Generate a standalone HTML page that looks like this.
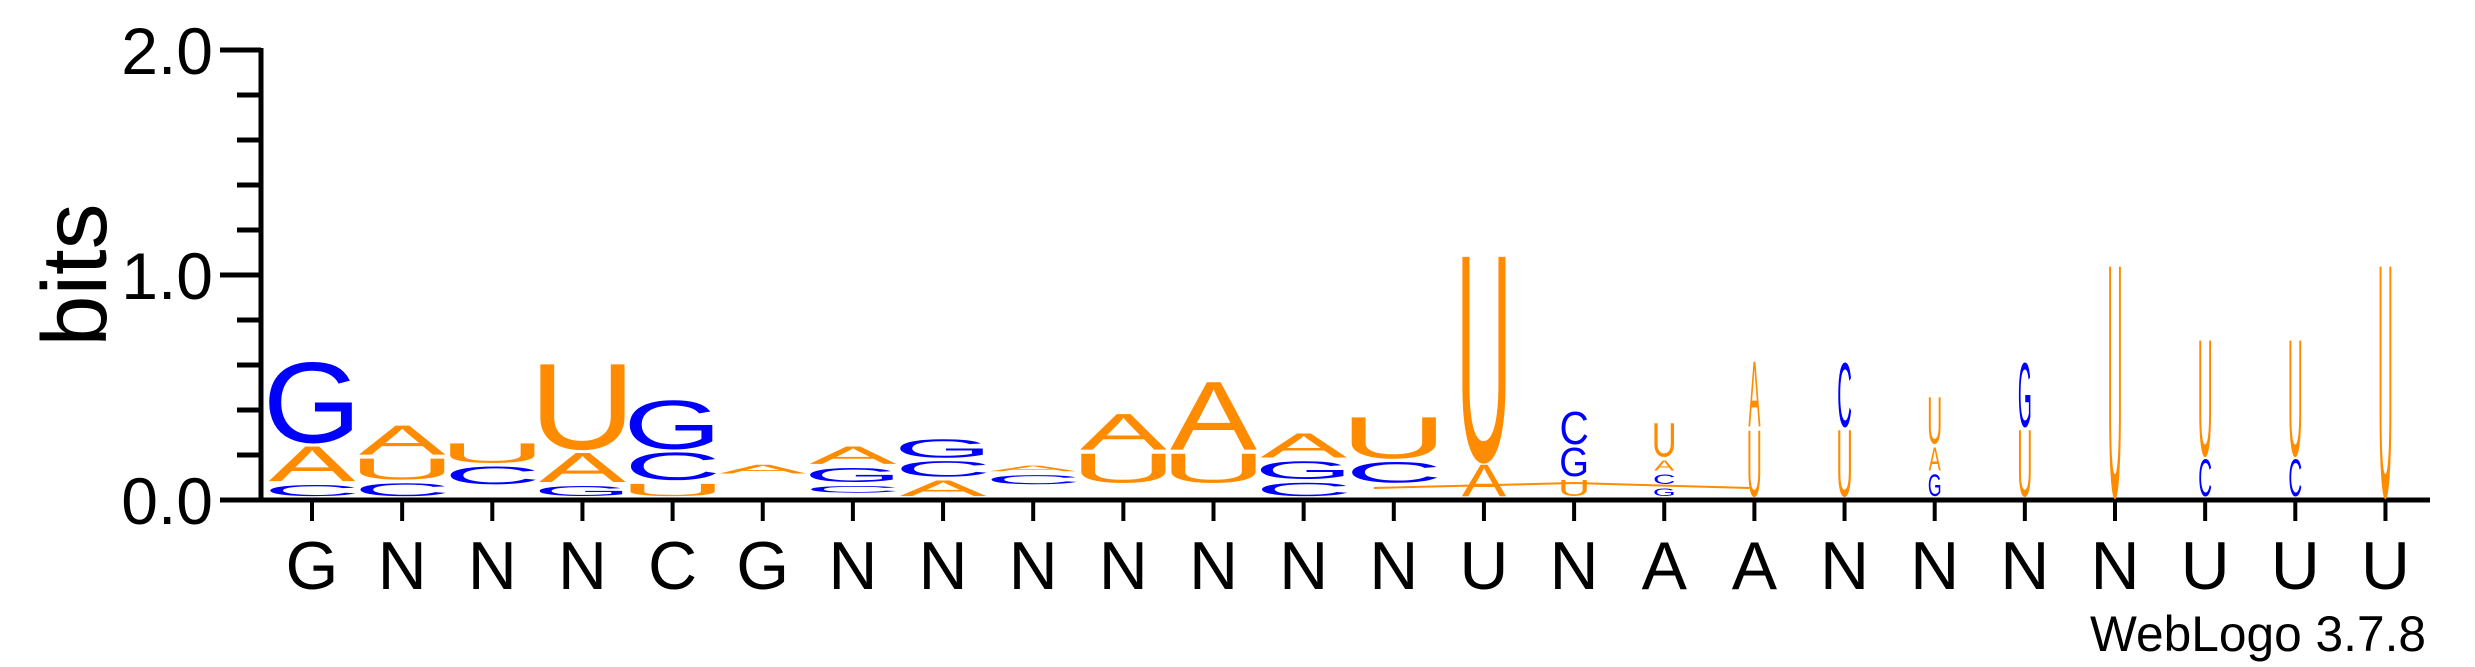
<!DOCTYPE html>
<html><head><meta charset="utf-8"><style>
html,body{margin:0;padding:0;background:#fff;}
svg{display:block;font-family:"Liberation Sans",Arial,sans-serif;}
</style></head><body>
<svg id="chart" width="2475" height="667" viewBox="0 0 2475 667" xmlns="http://www.w3.org/2000/svg">
<g id="axes"></g>
<g id="stacks"></g>
<text transform="translate(106,275) rotate(-90)" text-anchor="middle" font-size="92">bits</text>
<text x="2426" y="651" text-anchor="end" font-size="50" textLength="336" lengthAdjust="spacingAndGlyphs">WebLogo 3.7.8</text>
</svg>
<script>
// Data
const positions = ["G","N","N","N","C","G","N","N","N","N","N","N","N","U","N","A","A","N","N","N","N","U","U","U"];
// stacks bottom -> top
const stackLetters = [
 ["C","A","G"],["C","U","A"],["C","U"],["G","A","U"],["U","C","G"],["A"],
 ["C","G","A"],["A","C","G"],["C","A"],["U","A"],["U","A"],["C","G","A"],
 ["C","U"],["A","U"],["U","G","C"],["G","C","A","U"],["U","A"],["U","C"],
 ["G","A","U"],["U","G"],["U"],["C","U"],["C","U"],["U"]];
const stackBits = [
 [0.066,0.172,0.372],[0.074,0.11,0.147],[0.095,0.104],[0.062,0.147,0.395],[0.072,0.138,0.23],[0.057],
 [0.047,0.081,0.095],[0.087,0.085,0.098],[0.057,0.043],[0.146,0.176],[0.146,0.318],[0.076,0.095,0.125],
 [0.108,0.2],[0.157,0.926],[0.09,0.142,0.16],[0.053,0.06,0.062,0.166],[0.308,0.306],[0.31,0.30],
 [0.113,0.12,0.223],[0.31,0.30],[1.04],[0.18,0.53],[0.18,0.53],[1.04]];
// bits occupied by near-invisible letters below each stack
const hiddenBits = [0,0,0.053,0,0,0.1,0.015,0,0.053,0.06,0.06,0,0.06,0,0,0,0,0,0,0,0,0,0,0];
const yTicks = [0.0,1.0,2.0];
const yTickLabels = ["0.0","1.0","2.0"];
const minorTicks = [0.2,0.4,0.6,0.8,1.2,1.4,1.6,1.8];

// layout
const X0 = 312, PITCH = 90.15, Y0 = 500, PXPB = 225;
const colWidths = [86,86,86,86,86,86,86,86,86,86,86,86,86,44,26,20,12,13,12,12,12,12,12,12];
const inkW = {A:0.66,C:0.64,G:0.68,U:0.58};
const colors = {A:"#FF8C00",U:"#FF8C00",C:"#0000FF",G:"#0000FF"};
const xs = i => X0 + i*PITCH;
const ys = b => Y0 - b*PXPB;
const NS = "http://www.w3.org/2000/svg";
const axes = document.getElementById('axes');
const stacks = document.getElementById('stacks');
function mk(tag, attrs, parent){const e=document.createElementNS(NS,tag);for(const k in attrs)e.setAttribute(k,attrs[k]);parent.appendChild(e);return e;}

// y axis
let yl = mk('line',{x1:261,y1:ys(2.0)-2,x2:261,y2:Y0+2,stroke:'#000','stroke-width':5},axes);


yTicks.forEach((t,i)=>{
  const l = mk('line',{x1:220,y1:ys(t),x2:261,y2:ys(t),stroke:'#000','stroke-width':5},axes);
  
  
  const tx = mk('text',{x:213,y:ys(t)+24,'text-anchor':'end','font-size':66},axes);
  
  
  tx.textContent = yTickLabels[i];
});
minorTicks.forEach(t=>{
  const l = mk('line',{x1:237,y1:ys(t),x2:261,y2:ys(t),stroke:'#000','stroke-width':5},axes);
  
  
});
// x axis
let xl = mk('line',{x1:259,y1:Y0,x2:2430,y2:Y0,stroke:'#000','stroke-width':5},axes);


positions.forEach((p,i)=>{
  const l = mk('line',{x1:xs(i),y1:Y0,x2:xs(i),y2:521,stroke:'#000','stroke-width':4},axes);
  
  
  const tx = mk('text',{x:xs(i),y:589,'text-anchor':'middle','font-size':68},axes);
  
  
  tx.textContent = p;
});
// thin orange artifact line
let art = mk('polyline',{points:`${xs(12)-20},488 ${xs(14)},483 ${xs(16)-5},488`,fill:'none',stroke:'#FF8C00','stroke-width':2},stacks);



// letters
stackLetters.forEach((letters,i)=>{
  let base = hiddenBits[i];
  letters.forEach((L,j)=>{
    const b = stackBits[i][j];
    const yBot = ys(base) - 4;
    const h = b*PXPB - 4;
    base += b;
    if (h <= 0.5) return;
    const sx = colWidths[i]/(inkW[L]*100);
    const sy = h/69;
    const t = mk('text',{transform:`translate(${xs(i)},${yBot}) scale(${sx},${sy})`,'text-anchor':'middle','font-size':100,fill:colors[L]},stacks);
    
    
    t.textContent = L;
  });
});
</script>
</body></html>
